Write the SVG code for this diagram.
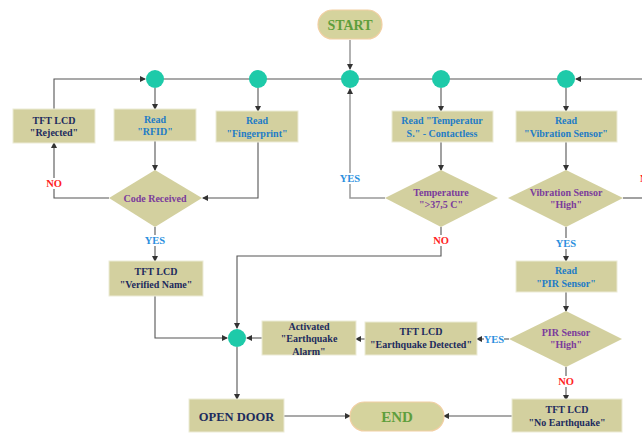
<svg xmlns="http://www.w3.org/2000/svg" width="642" height="433" viewBox="0 0 642 433" font-family="'Liberation Serif', 'Times New Roman', serif">
<style>
  .box{fill:#d3d09f;stroke:#ecebd6;stroke-width:1}
  .pill{fill:#d5d39d;stroke:#f1cfa3;stroke-width:1.2}
  .dia{fill:#d3d09f}
  .dot{fill:#1ecaa9}
  .ln{fill:none;stroke:#555;stroke-width:1.1}
  .lt{fill:none;stroke:#999;stroke-width:1.5}
  text{font-family:'Liberation Serif','Times New Roman',serif;font-weight:bold;text-anchor:middle;font-size:10px}
  .nv{fill:#1c2b5e}
  .bl{fill:#1f7cc6}
  .pu{fill:#7b3c9c}
  .gr{fill:#5e9e3c}
  .yes{fill:#2b8fde;font-size:10.5px}
  .no{fill:#ff2222;font-size:10.5px}
  .lbg{fill:#fff}
</style>
<defs>
  <marker id="ah" markerWidth="6" markerHeight="6" refX="5" refY="3" orient="auto" markerUnits="userSpaceOnUse">
    <path d="M0,0 L6,3 L0,6 z" fill="#333"/>
  </marker>
</defs>
<rect width="642" height="433" fill="#fff"/>

<g id="connectors">
  <path class="lt" d="M350,40 V69" marker-end="url(#ah)"/>
  <path class="ln" d="M54,109 V79 H145" marker-end="url(#ah)"/>
  <path class="ln" d="M155,79 H566"/>
  <path class="ln" d="M642,79 H576" marker-end="url(#ah)"/>
  <path class="ln" d="M155,88 V109" marker-end="url(#ah)"/>
  <path class="ln" d="M258,88 V111" marker-end="url(#ah)"/>
  <path class="ln" d="M441,88 V111" marker-end="url(#ah)"/>
  <path class="ln" d="M566,88 V111" marker-end="url(#ah)"/>
  <path class="ln" d="M155,141 V170" marker-end="url(#ah)"/>
  <path class="ln" d="M258,142 V198 H203" marker-end="url(#ah)"/>
  <path class="ln" d="M109,198 H54 V143" marker-end="url(#ah)"/>
  <path class="ln" d="M155,227 V261" marker-end="url(#ah)"/>
  <path class="ln" d="M155,296 V338 H227" marker-end="url(#ah)"/>
  <path class="ln" d="M441,142 V170" marker-end="url(#ah)"/>
  <path class="lt" d="M385,198 H350 V89" marker-end="url(#ah)"/>
  <path class="ln" d="M441,227 V256 H237 V328" marker-end="url(#ah)"/>
  <path class="ln" d="M566,142 V170" marker-end="url(#ah)"/>
  <path class="ln" d="M623,198 H642"/>
  <path class="ln" d="M566,227 V261" marker-end="url(#ah)"/>
  <path class="ln" d="M566,292 V311" marker-end="url(#ah)"/>
  <path class="ln" d="M509,339 H477" marker-end="url(#ah)"/>
  <path class="ln" d="M365,339 H356" marker-end="url(#ah)"/>
  <path class="ln" d="M262,338 H247" marker-end="url(#ah)"/>
  <path class="ln" d="M237,347 V399" marker-end="url(#ah)"/>
  <path class="ln" d="M284,416 H350" marker-end="url(#ah)"/>
  <path class="ln" d="M566,367 V400" marker-end="url(#ah)"/>
  <path class="ln" d="M512,416 H444" marker-end="url(#ah)"/>
  <rect class="lbg" x="44" y="178" width="20" height="11"/>
  <text class="no" x="54" y="187">NO</text>
  <rect class="lbg" x="143" y="235" width="24" height="11"/>
  <text class="yes" x="155" y="244">YES</text>
  <rect class="lbg" x="338" y="173" width="24" height="11"/>
  <text class="yes" x="350" y="182">YES</text>
  <rect class="lbg" x="431" y="235" width="20" height="11"/>
  <text class="no" x="441" y="244">NO</text>
  <text class="no" x="640" y="182" style="text-anchor:start">NO</text>
  <rect class="lbg" x="554" y="238" width="24" height="11"/>
  <text class="yes" x="566" y="247">YES</text>
  <rect class="lbg" x="484" y="334" width="20" height="11"/>
  <text class="yes" x="494" y="343">YES</text>
  <rect class="lbg" x="556" y="376" width="20" height="11"/>
  <text class="no" x="566" y="385">NO</text>
</g>

<g id="start"><rect class="pill" x="318" y="10" width="64" height="29" rx="14.5"/><text class="gr" x="350" y="30" style="font-size:14px">START</text></g>

<g id="j1"><circle class="dot" cx="155" cy="79" r="9"/></g>
<g id="j2"><circle class="dot" cx="258" cy="79" r="9"/></g>
<g id="j3"><circle class="dot" cx="350" cy="79" r="9"/></g>
<g id="j4"><circle class="dot" cx="441" cy="79" r="9"/></g>
<g id="j5"><circle class="dot" cx="566" cy="79" r="9"/></g>
<g id="j6"><circle class="dot" cx="237" cy="338" r="9"/></g>

<g id="rejected"><rect class="box" x="13" y="109" width="82" height="34"/><text class="nv" x="54" y="123.5">TFT LCD</text><text class="nv" x="54" y="136">"Rejected"</text></g>
<g id="rfid"><rect class="box" x="114" y="109" width="82" height="32"/><text class="bl" x="155" y="122.5">Read</text><text class="bl" x="155" y="135">"RFID"</text></g>
<g id="finger"><rect class="box" x="216" y="111" width="82" height="31"/><text class="bl" x="257" y="124">Read</text><text class="bl" x="257" y="136.5">"Fingerprint"</text></g>
<g id="temp"><rect class="box" x="392" y="111" width="101" height="31"/><text class="bl" x="442" y="124">Read "Temperatur</text><text class="bl" x="442" y="136.5">S." - Contactless</text></g>
<g id="vib"><rect class="box" x="516" y="111" width="101" height="31"/><text class="bl" x="566" y="124">Read</text><text class="bl" x="566" y="136.5">"Vibration Sensor"</text></g>

<g id="code"><polygon class="dia" points="155,170 202,198 155,227 109,198"/><text class="pu" x="155" y="201.5">Code Received</text></g>
<g id="tempdec"><polygon class="dia" points="441,170 498,198 441,227 385,198"/><text class="pu" x="441" y="196">Temperature</text><text class="pu" x="441" y="208">"&gt;37,5 C"</text></g>
<g id="vibdec"><polygon class="dia" points="566,170 623,198 566,227 508,198"/><text class="pu" x="566" y="196">Vibration Sensor</text><text class="pu" x="566" y="208">"High"</text></g>

<g id="verified"><rect class="box" x="109" y="261" width="94" height="35"/><text class="nv" x="156" y="275">TFT LCD</text><text class="nv" x="156" y="287.5">"Verified Name"</text></g>
<g id="pir"><rect class="box" x="516" y="261" width="101" height="31"/><text class="bl" x="566" y="274">Read</text><text class="bl" x="566" y="286.5">"PIR Sensor"</text></g>

<g id="pirdec"><polygon class="dia" points="566,311 622,339 566,367 509,339"/><text class="pu" x="566" y="336">PIR Sensor</text><text class="pu" x="566" y="348">"High"</text></g>
<g id="detected"><rect class="box" x="365" y="322" width="112" height="33"/><text class="nv" x="421" y="335">TFT LCD</text><text class="nv" x="421" y="347.5">"Earthquake Detected"</text></g>
<g id="alarm"><rect class="box" x="262" y="321" width="94" height="34"/><text class="nv" x="309" y="329.5">Activated</text><text class="nv" x="309" y="342">"Earthquake</text><text class="nv" x="309" y="354.5">Alarm"</text></g>

<g id="opendoor"><rect class="box" x="189" y="399" width="95" height="33"/><text class="nv" x="236.5" y="420.5" style="font-size:12.5px">OPEN DOOR</text></g>
<g id="end"><rect class="pill" x="350" y="402" width="94" height="29" rx="14.5"/><text class="gr" x="397" y="421.5" style="font-size:15px">END</text></g>
<g id="noeq"><rect class="box" x="512" y="399" width="110" height="33"/><text class="nv" x="567" y="413">TFT LCD</text><text class="nv" x="567" y="425.5">"No Earthquake"</text></g>
</svg>
